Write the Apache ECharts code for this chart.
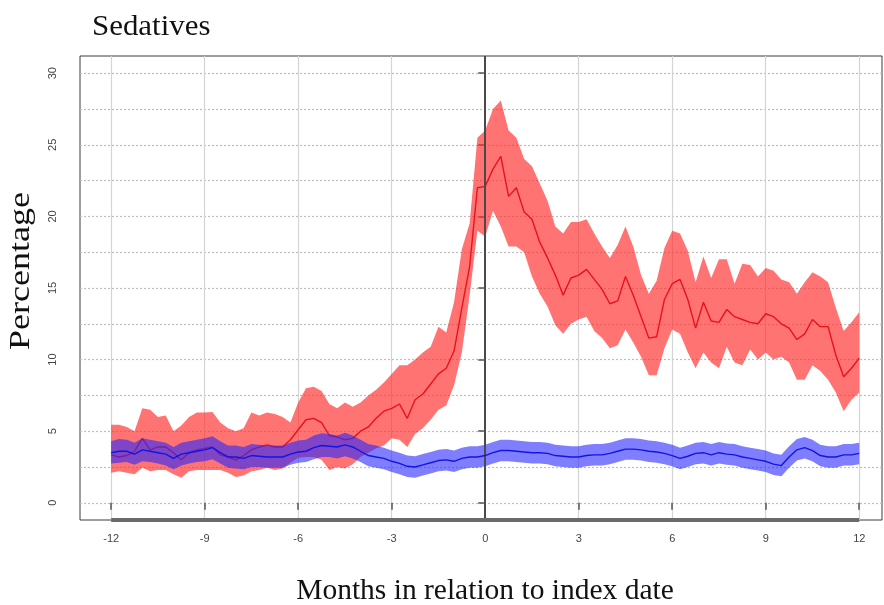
<!DOCTYPE html>
<html>
<head>
<meta charset="utf-8">
<script src="https://cdn.jsdelivr.net/npm/echarts@6/dist/echarts.min.js"></script>
<style>
  html, body { margin: 0; padding: 0; background: #ffffff; }
  #chart { width: 884px; height: 605px; }
</style>
</head>
<body>
<div id="chart"></div>
<script>
// Axis ticks and gridlines
const xTicks = [-12, -9, -6, -3, 0, 3, 6, 9, 12];
const yTicks = [0, 5, 10, 15, 20, 25, 30];
const yGridLines = [0, 2.5, 5, 7.5, 10, 12.5, 15, 17.5, 20, 22.5, 25, 27.5, 30];

// Time grid: months relative to the index date, in quarter-month steps
const months = [];
for (let i = 0; i <= 96; i++) months.push(-12 + i * 0.25);

// Cases (red): mean percentage and confidence band, one row per month
const redMean = [
  3.35, 3.2, 3.3, 3.6,
  4.5, 3.7, 3.9, 3.9,
  3.5, 3.0, 3.5, 3.7,
  3.8, 3.9, 3.35, 3.2,
  3.0, 3.3, 3.7, 3.9,
  4.05, 3.9, 3.9, 4.4,
  5.1, 5.8, 5.9, 5.6,
  4.7, 4.6, 4.4, 4.5,
  5.0, 5.3, 5.9, 6.4,
  6.6, 6.9, 5.9, 7.2,
  7.6, 8.3, 9.0, 9.4,
  10.6, 13.6, 16.5, 22.0,
  22.1, 23.3, 24.2, 21.4,
  22.0, 20.3, 19.8, 18.2,
  17.1, 15.9, 14.5, 15.7,
  15.9, 16.3, 15.6, 14.9,
  13.9, 14.1, 15.8, 14.5,
  13.0, 11.5, 11.6, 14.2,
  15.3, 15.6, 14.2, 12.2,
  14.0, 12.7, 12.6, 13.5,
  13.0, 12.8, 12.6, 12.5,
  13.2, 13.0, 12.5, 12.2,
  11.4, 11.8, 12.8, 12.3,
  12.3, 10.3, 8.8, 9.4,
  10.1
];
const redUpper = [
  5.45, 5.45, 5.3, 5.0,
  6.6, 6.5, 6.0, 6.1,
  5.0, 5.4, 6.0, 6.3,
  6.3, 6.35, 5.6, 5.2,
  5.0, 5.2, 6.3, 6.1,
  6.3, 6.2, 6.0, 5.6,
  7.0, 8.0, 8.1, 7.8,
  6.9, 6.6, 7.0, 6.7,
  7.0, 7.5, 7.9, 8.4,
  9.0, 9.6, 9.6, 10.0,
  10.5, 10.9, 12.3, 11.9,
  14.0, 17.7, 19.5, 25.5,
  26.0, 27.5, 28.1, 26.0,
  25.5, 24.0, 23.5, 22.3,
  21.1, 19.3, 18.8, 19.6,
  19.6, 19.8, 18.8, 17.9,
  17.1, 18.0, 19.3, 17.9,
  15.9, 14.6, 15.5, 17.8,
  19.0, 18.8, 17.6, 15.4,
  17.2, 15.7, 17.0, 17.0,
  15.3, 16.7, 16.6, 15.8,
  16.4, 16.2, 15.6, 15.4,
  14.6, 15.4, 16.1, 15.8,
  15.4, 13.6, 12.0, 12.6,
  13.3
];
const redLower = [
  2.1, 2.2, 2.1, 2.0,
  2.45, 2.2, 2.3, 2.3,
  2.0, 1.75, 2.2, 2.3,
  2.3, 2.3, 2.3, 2.1,
  1.8, 1.9, 2.2, 2.3,
  2.45, 2.3, 2.4, 2.8,
  3.15, 3.2, 3.2, 3.0,
  2.3, 2.5, 2.4, 2.7,
  3.2, 3.5, 3.8, 4.0,
  4.5, 4.4, 3.9, 4.8,
  5.2, 5.8, 6.5, 6.8,
  8.2, 10.5, 14.5, 19.0,
  18.6, 20.4, 19.3, 17.9,
  17.9, 17.5, 15.8, 14.6,
  13.7, 12.4, 11.8, 12.5,
  12.8, 13.0, 12.0, 11.5,
  10.8, 11.0, 12.1, 11.2,
  10.2, 8.9, 8.9, 10.8,
  12.1, 11.8, 10.5, 9.4,
  10.5, 9.8, 9.4, 10.9,
  9.8, 9.6, 10.7, 10.0,
  10.5, 10.0, 10.2, 9.8,
  8.6, 8.6, 9.6, 9.2,
  8.6, 7.7, 6.4, 7.2,
  7.7
];

// Controls (blue): mean percentage and confidence band
const blueMean = [
  3.5, 3.6, 3.6, 3.4,
  3.7, 3.6, 3.5, 3.4,
  3.1, 3.4, 3.5, 3.6,
  3.7, 3.85, 3.5, 3.2,
  3.2, 3.1, 3.3, 3.25,
  3.2, 3.2, 3.2, 3.4,
  3.55, 3.6, 3.85, 4.0,
  3.95, 3.9, 4.05, 3.9,
  3.6, 3.3, 3.2, 3.1,
  2.9, 2.75, 2.55, 2.5,
  2.65, 2.8, 2.95, 3.0,
  2.9, 3.1, 3.2, 3.2,
  3.3, 3.5, 3.65, 3.65,
  3.6, 3.55, 3.5, 3.5,
  3.45, 3.3, 3.25, 3.2,
  3.2, 3.3, 3.35, 3.35,
  3.45, 3.6, 3.75, 3.75,
  3.7, 3.6, 3.55, 3.45,
  3.3, 3.1, 3.25, 3.45,
  3.5, 3.35, 3.5, 3.4,
  3.35, 3.2, 3.1, 3.0,
  2.9, 2.7, 2.6, 3.2,
  3.7, 3.85, 3.65, 3.3,
  3.2, 3.2, 3.35, 3.35,
  3.45
];
const blueUpper = [
  4.3, 4.45, 4.4, 4.2,
  4.5, 4.4, 4.3, 4.2,
  3.9, 4.2, 4.3, 4.4,
  4.5, 4.65, 4.3, 4.0,
  4.0, 3.9, 4.1, 4.05,
  4.0, 4.0, 4.0, 4.2,
  4.35, 4.4, 4.7, 4.85,
  4.8, 4.7, 4.9, 4.7,
  4.4, 4.1, 4.0, 3.85,
  3.65, 3.5, 3.3, 3.25,
  3.4, 3.55, 3.7, 3.75,
  3.65, 3.85, 3.95, 3.95,
  4.05, 4.25, 4.4, 4.4,
  4.35, 4.3, 4.25, 4.25,
  4.2, 4.05, 4.0, 3.95,
  3.95, 4.05, 4.1, 4.1,
  4.2, 4.35, 4.5, 4.5,
  4.45, 4.35, 4.3, 4.2,
  4.05, 3.85, 4.0, 4.2,
  4.25, 4.1, 4.25, 4.15,
  4.1, 3.95, 3.85, 3.75,
  3.65, 3.45, 3.35, 3.95,
  4.45, 4.6, 4.4, 4.05,
  3.95, 3.95, 4.1, 4.1,
  4.2
];
const blueLower = [
  2.75, 2.8, 2.85, 2.65,
  2.9, 2.85, 2.75, 2.6,
  2.35, 2.6, 2.75, 2.85,
  2.9, 3.05, 2.75, 2.45,
  2.4, 2.35, 2.5, 2.5,
  2.45, 2.45, 2.45, 2.65,
  2.8, 2.85, 3.05, 3.2,
  3.2, 3.1, 3.25, 3.1,
  2.85, 2.55, 2.45, 2.35,
  2.15, 2.0, 1.8, 1.75,
  1.9, 2.05, 2.2, 2.25,
  2.15, 2.35, 2.45, 2.45,
  2.55, 2.75, 2.9, 2.9,
  2.85, 2.8, 2.75, 2.75,
  2.7, 2.55, 2.5, 2.45,
  2.45, 2.55, 2.6, 2.6,
  2.7, 2.85, 3.0, 3.0,
  2.95, 2.85, 2.8, 2.7,
  2.55, 2.35, 2.5, 2.7,
  2.75, 2.6, 2.75, 2.65,
  2.6, 2.45, 2.35, 2.25,
  2.15, 1.95, 1.85, 2.45,
  2.95, 3.1, 2.9, 2.55,
  2.45, 2.45, 2.6, 2.6,
  2.7
];

// Axis ranges with a little padding around the data
const xMin = -13, xMax = 12.73;
const yMin = -1.2, yMax = 31.2;

const serif = "'Liberation Serif', 'DejaVu Serif', serif";
const sans = "'Liberation Sans', Arial, sans-serif";

// Confidence band drawn as a single filled polygon through the axis scales
function band(name, lower, upper, fill, z) {
  const rows = months.map((m, i) => [m, lower[i], upper[i]]);
  return {
    name: name,
    type: 'custom',
    z: z,
    silent: true,
    data: rows,
    encode: { x: 0, y: [1, 2] },
    renderItem: function (params, api) {
      if (params.dataIndex !== 0) return null;
      const top = rows.map(r => api.coord([r[0], r[2]]));
      const bottom = rows.map(r => api.coord([r[0], r[1]])).reverse();
      return {
        type: 'polygon',
        shape: { points: top.concat(bottom) },
        style: { fill: fill, stroke: null }
      };
    }
  };
}

function meanLine(name, values, color, z) {
  return {
    name: name,
    type: 'line',
    z: z,
    silent: true,
    showSymbol: false,
    data: months.map((m, i) => [m, values[i]]),
    lineStyle: { color: color, width: 1.4 },
    itemStyle: { color: color }
  };
}

const chart = echarts.init(document.getElementById('chart'), null, { renderer: 'canvas' });

const blueLine = meanLine('Controls', blueMean, '#1414e0', 5);
blueLine.markLine = {
  silent: true,
  symbol: 'none',
  label: { show: false },
  data: [
    { xAxis: 0, lineStyle: { color: '#4a4a4a', width: 2, type: 'solid' } },
    [
      { coord: [xTicks[0], yMin], lineStyle: { color: '#6a6a6a', width: 4, type: 'solid' } },
      { coord: [xTicks[xTicks.length - 1], yMin] }
    ]
  ]
};

chart.setOption({
  animation: false,
  backgroundColor: '#ffffff',
  grid: {
    left: 80, top: 56, right: 2, height: 464,
    show: true, borderColor: '#3a3a3a', borderWidth: 1, backgroundColor: 'transparent'
  },
  xAxis: {
    type: 'value',
    min: xMin, max: xMax,
    axisLine: { show: false },
    axisTick: { show: true, customValues: xTicks, length: 7, lineStyle: { color: '#555', width: 1.5 } },
    axisLabel: { customValues: xTicks, margin: 13, fontSize: 11, color: '#444', fontFamily: sans },
    splitLine: { show: true, lineStyle: { color: '#d4d4d4', width: 1.2, type: 'solid' } }
  },
  yAxis: [
    {
      type: 'value',
      min: yMin, max: yMax,
      axisLine: { show: false },
      axisTick: { show: true, customValues: yTicks, length: 7, lineStyle: { color: '#555', width: 1.5 } },
      axisLabel: { customValues: yTicks, rotate: 90, margin: 22, fontSize: 11, color: '#444', fontFamily: sans },
      splitLine: { show: false }
    },
    {
      type: 'value',
      position: 'right',
      min: yMin, max: yMax,
      axisLine: { show: false },
      axisTick: { show: false, customValues: yGridLines },
      axisLabel: { show: false },
      splitLine: { show: true, lineStyle: { color: '#bdbdbd', width: 1.2, type: [2, 2] } }
    }
  ],
  graphic: [
    { type: 'text', left: 92, top: 12, scaleX: 1.03,
      style: { text: 'Sedatives', font: '30px ' + serif, fill: '#111' } },
    { type: 'text', x: 21, y: 271, rotation: Math.PI / 2, scaleX: 1.2,
      style: { text: 'Percentage', font: '30px ' + serif, fill: '#111', align: 'center', verticalAlign: 'middle' } },
    { type: 'text', x: 485, y: 591,
      style: { text: 'Months in relation to index date', font: '29.5px ' + serif, fill: '#111', align: 'center', verticalAlign: 'middle' } }
  ],
  series: [
    band('Cases band', redLower, redUpper, 'rgba(255, 40, 40, 0.65)', 2),
    meanLine('Cases', redMean, '#e8121b', 3),
    band('Controls band', blueLower, blueUpper, 'rgba(40, 40, 255, 0.6)', 4),
    blueLine
  ]
});
</script>
</body>
</html>
